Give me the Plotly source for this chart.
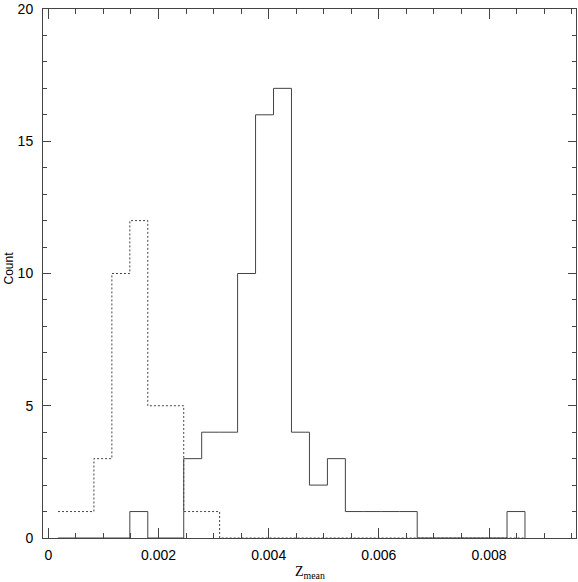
import plotly.graph_objects as go

# bin edges of the two histograms (Z_mean)
bin_edges = [0.000176, 0.000502, 0.000828, 0.001154, 0.001480, 0.001806,
             0.002132, 0.002458, 0.002784, 0.003110, 0.003436, 0.003762,
             0.004088, 0.004414, 0.004740, 0.005066, 0.005392, 0.005718,
             0.006044, 0.006370, 0.006696, 0.007022, 0.007348, 0.007674,
             0.008000, 0.008326, 0.008652]

# counts per bin
solid_counts = [0, 0, 0, 0, 1, 0, 0, 3, 4, 4, 10, 16, 17, 4, 2, 3,
                1, 1, 1, 1, 0, 0, 0, 0, 0, 1]
dotted_counts = [1, 1, 3, 10, 12, 5, 5, 1, 1, 0, 0, 0, 0, 0, 0, 0,
                 0, 0, 0, 0, 0, 0, 0, 0, 0, 0]

x_ticks = [0, 0.002, 0.004, 0.006, 0.008]
x_tick_text = ['0', '0.002', '0.004', '0.006', '0.008']
y_ticks = [0, 5, 10, 15, 20]

line_col = '#444444'

fig = go.Figure()
fig.add_trace(go.Scatter(x=bin_edges, y=dotted_counts + [0], mode='lines',
                         line=dict(color=line_col, width=1, dash='2px,2px', shape='hv'),
                         hoverinfo='skip'))
fig.add_trace(go.Scatter(x=bin_edges, y=solid_counts + [0], mode='lines',
                         line=dict(color=line_col, width=1, shape='hv'),
                         hoverinfo='skip'))

fig.update_layout(
    width=578, height=582,
    margin=dict(l=43, r=1, t=3, b=44),
    plot_bgcolor='white', paper_bgcolor='white',
    showlegend=False,
    font=dict(family='Liberation Sans, Arial, sans-serif', size=14, color='black'),
)
fig.update_xaxes(range=[-0.000096, 0.009578], showgrid=False, zeroline=False,
                 showline=True, linecolor=line_col, linewidth=1, mirror='ticks',
                 ticks='inside', ticklen=10, tickcolor=line_col,
                 tickvals=x_ticks, ticktext=x_tick_text, ticklabeloverflow='allow',
                 ticklabelstandoff=4,
                 minor=dict(ticks='inside', ticklen=5, dtick=0.0005, tick0=0,
                            tickcolor=line_col, showgrid=False))
fig.update_yaxes(range=[0, 20], showgrid=False, zeroline=False,
                 showline=True, linecolor=line_col, linewidth=1, mirror='ticks',
                 ticks='inside', ticklen=8, tickcolor=line_col,
                 tickvals=y_ticks, ticklabeloverflow='allow',
                 ticklabelstandoff=6,
                 minor=dict(ticks='inside', ticklen=4, dtick=1, tick0=0,
                            tickcolor=line_col, showgrid=False))

fig.add_annotation(text='Count', textangle=-90, x=0, xref='paper', xanchor='center',
                   xshift=-35, y=0.5, yref='paper', yshift=5, showarrow=False,
                   font=dict(family='Liberation Sans, Arial, sans-serif', size=12))
fig.add_annotation(text='Z<sub>mean</sub>', x=0.5, xref='paper', y=0, yref='paper',
                   yanchor='top', yshift=-24, showarrow=False,
                   font=dict(family='Liberation Serif, Times New Roman, serif', size=14))

# page body has a default 8px margin; drop it so the figure fills the window
fig.write_html("out.html", config={'displayModeBar': False},
               post_script="document.body.style.margin='0';document.body.style.overflow='hidden';")
